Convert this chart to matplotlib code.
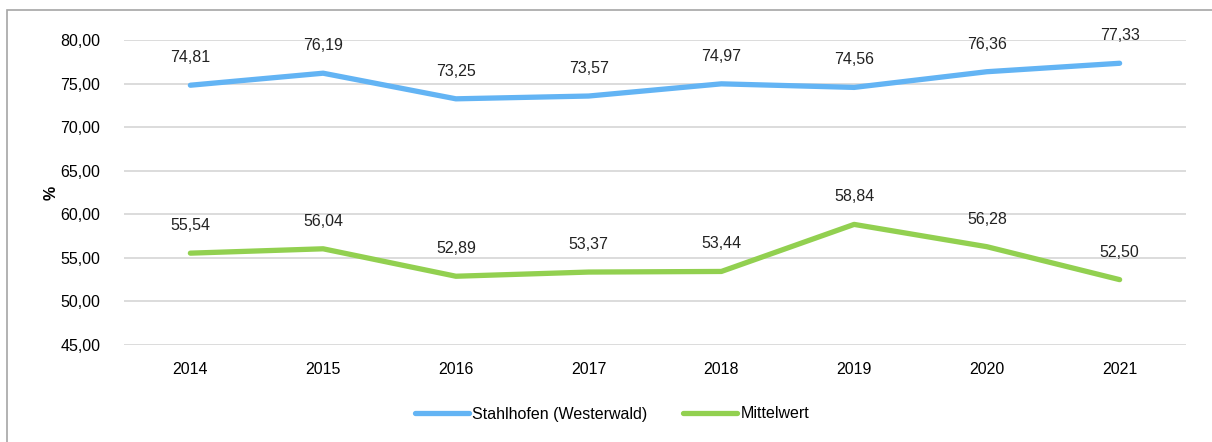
import matplotlib
matplotlib.use("Agg")
import matplotlib.pyplot as plt
from matplotlib.patches import Rectangle

plt.rcParams['font.family'] = ['Liberation Sans', 'DejaVu Sans']

years = ["2014", "2015", "2016", "2017", "2018", "2019", "2020", "2021"]
stahlhofen = [74.81, 76.19, 73.25, 73.57, 74.97, 74.56, 76.36, 77.33]
mittelwert = [55.54, 56.04, 52.89, 53.37, 53.44, 58.84, 56.28, 52.50]
series_names = ["Stahlhofen (Westerwald)", "Mittelwert"]
colors = ["#63B4F4", "#92D050"]
yticks = [45, 50, 55, 60, 65, 70, 75, 80]

W, H = 1212, 442
fig = plt.figure(figsize=(W / 100, H / 100), dpi=100)
ax = fig.add_axes([124 / W, 1 - 345 / H, (1186 - 124) / W, (345 - 40) / H])

x = list(range(len(years)))
for vals, col, name in zip([stahlhofen, mittelwert], colors, series_names):
    ax.plot(x, vals, color=col, lw=3.8, solid_capstyle='round', label=name)
    for xi, v in zip(x, vals):
        ax.annotate(f"{v:.2f}".replace('.', ','), (xi, v), xytext=(0, 14.5),
                    textcoords='offset points', ha='center', va='bottom',
                    fontsize=11.5, color='#222222')

ax.set_xlim(-0.5, len(years) - 0.5)
ax.set_ylim(45, 80)
ax.set_yticks(yticks)
ax.set_yticklabels([f"{t:.2f}".replace('.', ',') for t in yticks], fontsize=11.5)
ax.set_xticks(x)
ax.set_xticklabels(years, fontsize=11.5)
ax.tick_params(length=0)
ax.tick_params(axis='x', pad=12)
ax.tick_params(axis='y', pad=17)
ax.grid(axis='y', color='#D9D9D9', lw=1.3)
ax.set_axisbelow(True)
for s in ax.spines.values():
    s.set_visible(False)
ax.set_ylabel('%', fontsize=11.5, fontweight='bold')
ax.yaxis.set_label_coords(-0.062, 0.5)

fig.legend(loc='center', bbox_to_anchor=(612 / W, 1 - 414 / H), ncol=2,
           frameon=False, fontsize=11.5, handlelength=3.4, handletextpad=0.2,
           columnspacing=2.2)

fig.patches.append(Rectangle((7 / W, -0.01), 1.1, 1 - 10 / H + 0.01,
                             transform=fig.transFigure, fill=False,
                             edgecolor='#A6A6A6', lw=1.2))

fig.savefig('out.png', dpi=100)
